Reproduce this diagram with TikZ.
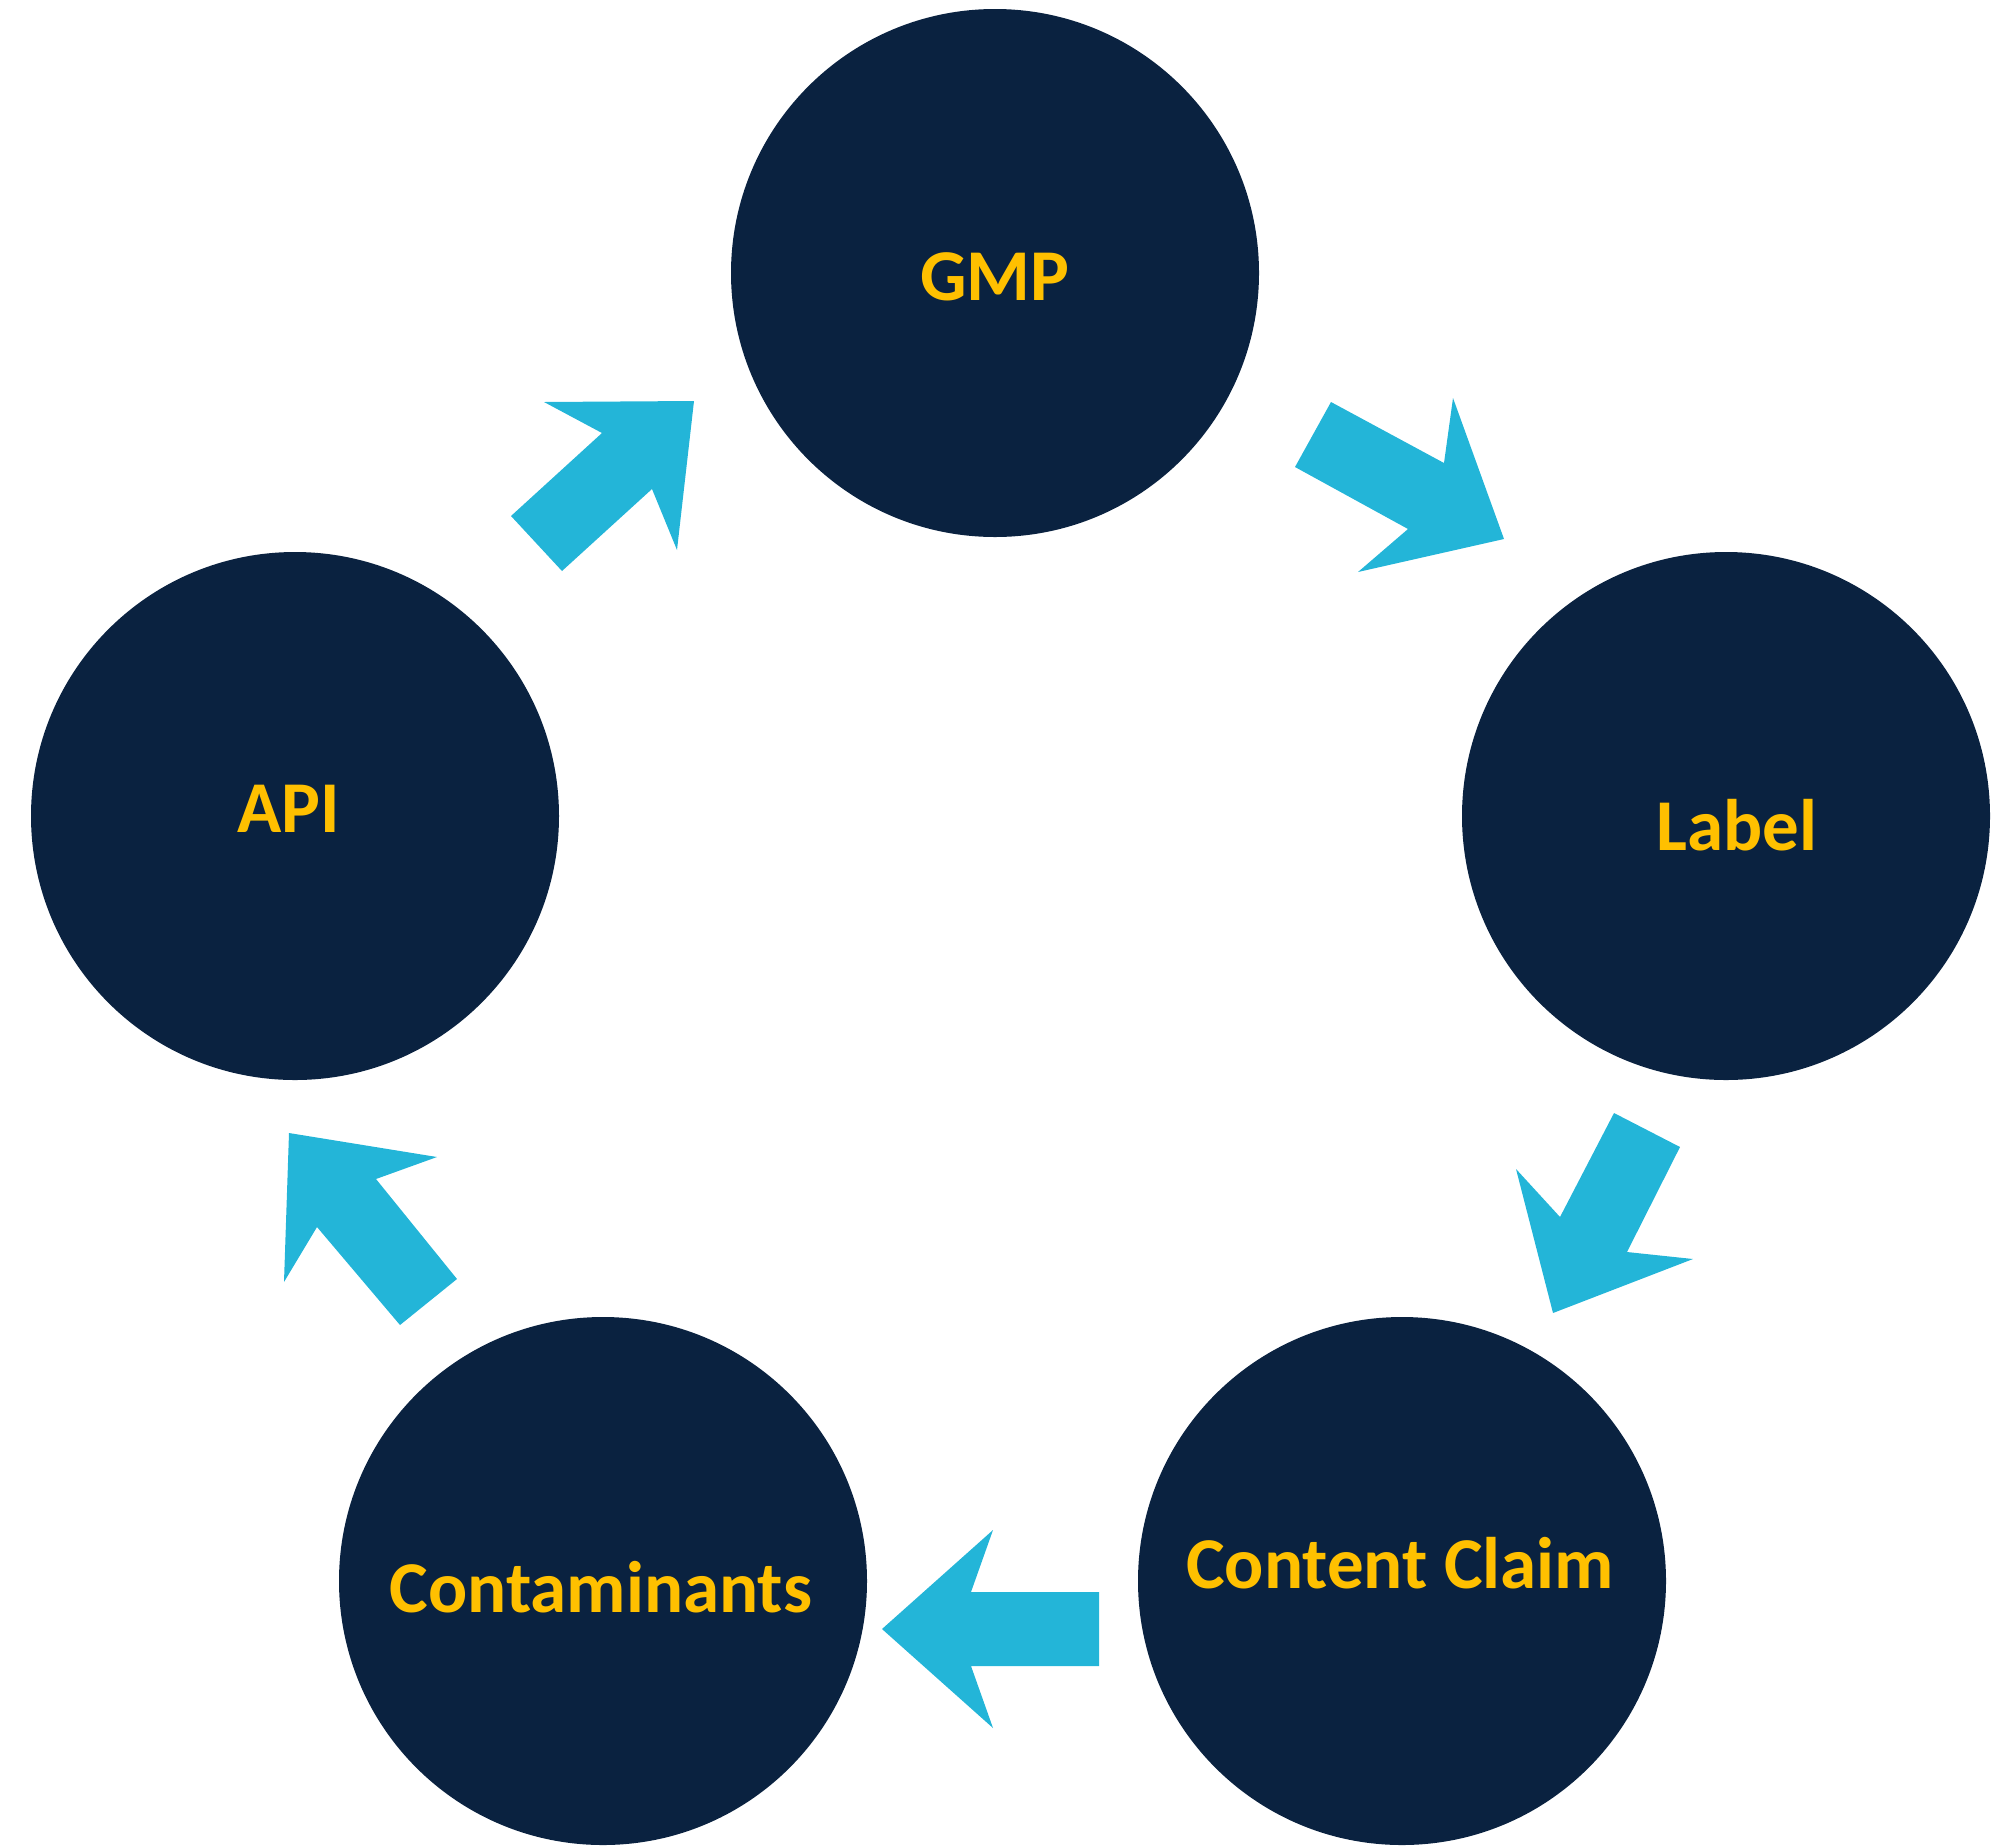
\documentclass[tikz,border=0pt]{standalone}
\usepackage{xcolor}
\usepackage{fontspec}
\setmainfont{Carlito}
\usepackage{tikz}
\definecolor{navy}{HTML}{0A2240}
\definecolor{gold}{HTML}{FFC000}
\definecolor{sky}{HTML}{23B5D8}
\newcommand{\stagecolor}{navy}

\tikzset{
	stage/.style={circle, fill=\stagecolor, draw=none, inner sep=0pt, minimum size=528pt},
	stagetext/.style={anchor=base, text=gold, font=\fontsize{73}{80}\selectfont\bfseries, inner sep=0pt},
	flow/.style={fill=sky, draw=none}
}

\begin{document}
\begin{tikzpicture}[x=1pt, y=-1pt]
	\useasboundingbox (0,0) rectangle (2002,1845);

	\node[stage] (gmp) at (995,273) {};
	\node[stage] (label) at (1726,816) {};
	\node[stage] (claim) at (1402,1581) {};
	\node[stage] (contam) at (603,1581) {};
	\node[stage] (api) at (295,816) {};

	\node[stagetext] (gmp text) at (995,300) {GMP};
	\node[stagetext] (label text) at (1737,850) {Label};
	\node[stagetext] (claim text) at (1400,1588) {Content Claim};
	\node[stagetext] (contam text) at (601,1612) {Contaminants};
	\node[stagetext] (api text) at (289,832) {API};

	% block arrows round the cycle
	\fill[flow] (511,516) -- (602,433) -- (544,402) -- (694,401)
		-- (677,550) -- (652,489) -- (562,571) -- cycle;
	\fill[flow] (1331,402) -- (1444,463) -- (1453,398) -- (1504,539)
		-- (1358,572) -- (1408,529) -- (1295,467) -- cycle;
	\fill[flow] (1614,1113) -- (1680,1147) -- (1627,1252) -- (1693,1259)
		-- (1553,1313) -- (1516,1169) -- (1560,1217) -- cycle;
	\fill[flow] (1099,1592) -- (1099,1666) -- (971,1666) -- (993,1728)
		-- (882,1629) -- (993,1530) -- (971,1592) -- cycle;
	\fill[flow] (289,1133) -- (437,1157) -- (376,1179) -- (457,1279)
		-- (400,1325) -- (317,1227) -- (284,1282) -- cycle;

\end{tikzpicture}
\end{document}
